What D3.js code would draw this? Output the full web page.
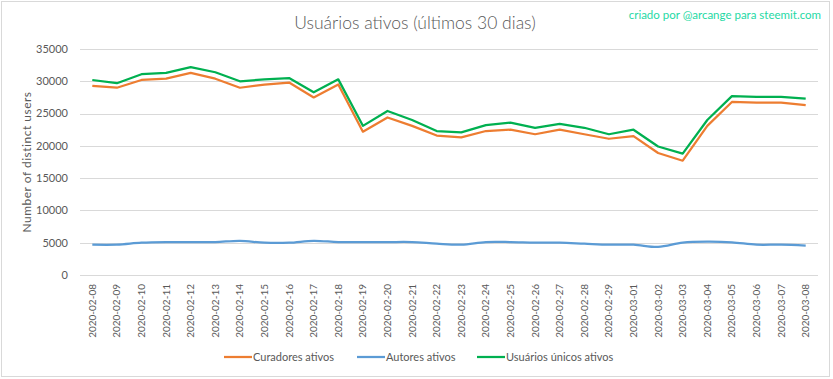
<!DOCTYPE html>
<html>
<head>
    <meta charset="utf-8"/>
    <title>Usuários ativos</title>
    <script src="https://d3js.org/d3.v7.min.js"></script>
    <style>
        body { margin: 0; background: #fff; }
        text { font-family: Lato, "Open Sans", sans-serif; }
    </style>
</head>
<body>
<div id="chart"></div>
<script>
    const dates = [
        '2020-02-08', '2020-02-09', '2020-02-10', '2020-02-11', '2020-02-12', '2020-02-13',
        '2020-02-14', '2020-02-15', '2020-02-16', '2020-02-17', '2020-02-18', '2020-02-19',
        '2020-02-20', '2020-02-21', '2020-02-22', '2020-02-23', '2020-02-24', '2020-02-25',
        '2020-02-26', '2020-02-27', '2020-02-28', '2020-02-29', '2020-03-01', '2020-03-02',
        '2020-03-03', '2020-03-04', '2020-03-05', '2020-03-06', '2020-03-07', '2020-03-08'
    ]
    const curadores = [
        29300, 29000, 30200, 30400, 31300, 30400, 29000, 29500, 29800, 27500,
        29500, 22200, 24400, 23100, 21600, 21300, 22300, 22500, 21800, 22500,
        21800, 21100, 21500, 18900, 17700, 23100, 26800, 26700, 26700, 26300
    ]
    const autores = [
        4700, 4700, 5000, 5100, 5100, 5100, 5300, 5000, 5000, 5300,
        5100, 5100, 5100, 5100, 4850, 4700, 5100, 5100, 5000, 5000,
        4850, 4700, 4700, 4350, 5000, 5150, 5050, 4700, 4700, 4550
    ]
    const unicos = [
        30200, 29700, 31100, 31300, 32200, 31400, 30000, 30300, 30500, 28300,
        30300, 23100, 25400, 24000, 22300, 22100, 23200, 23600, 22800, 23400,
        22800, 21800, 22500, 19900, 18800, 24000, 27700, 27600, 27600, 27300
    ]
    const yTicks = [0, 5000, 10000, 15000, 20000, 25000, 30000, 35000]

    const series = [
        { name: 'Curadores ativos', values: curadores, color: '#ED7D31', smooth: false },
        { name: 'Autores ativos', values: autores, color: '#5B9BD5', smooth: true },
        { name: 'Usuários únicos ativos', values: unicos, color: '#00B050', smooth: false }
    ]

    const W = 833, H = 379
    const plot = { left: 80, right: 818, top: 49, bottom: 275 }

    const svg = d3.select('#chart').append('svg')
        .attr('width', W)
        .attr('height', H)

    svg.append('rect')
        .attr('x', 1.5).attr('y', 1.5)
        .attr('width', W - 5).attr('height', H - 4)
        .attr('fill', '#fff')
        .attr('stroke', '#d9d9d9')

    const x = d3.scaleBand()
        .domain(dates)
        .range([plot.left, plot.right])

    const y = d3.scaleLinear()
        .domain([0, 35000])
        .range([plot.bottom, plot.top])

    // gridlines
    svg.append('g')
        .selectAll('line')
        .data(yTicks)
        .join('line')
        .attr('x1', plot.left)
        .attr('x2', plot.right)
        .attr('y1', d => Math.round(y(d)) + 0.5)
        .attr('y2', d => Math.round(y(d)) + 0.5)
        .attr('stroke', '#d9d9d9')
        .attr('stroke-width', 1)

    // y axis labels
    svg.append('g')
        .selectAll('text')
        .data(yTicks)
        .join('text')
        .attr('x', plot.left - 12)
        .attr('y', d => y(d))
        .attr('dy', '0.35em')
        .attr('text-anchor', 'end')
        .attr('fill', '#595959')
        .style('font-size', '11px')
        .text(d => d)

    // x axis labels
    svg.append('g')
        .selectAll('text')
        .data(dates)
        .join('text')
        .attr('transform', d => `translate(${x(d) + x.bandwidth() / 2 + 3.5},${plot.bottom + 9}) rotate(-90)`)
        .attr('text-anchor', 'end')
        .attr('fill', '#595959')
        .style('font-size', '10px')
        .text(d => d)

    // y title
    svg.append('text')
        .attr('transform', `translate(31,${(plot.top + plot.bottom) / 2}) rotate(-90)`)
        .attr('text-anchor', 'middle')
        .attr('fill', '#595959')
        .style('font-size', '12px')
        .style('letter-spacing', '0.5px')
        .text('Number of distinct users')

    // lines
    series.forEach(s => {
        const line = d3.line()
            .x((d, i) => x(dates[i]) + x.bandwidth() / 2)
            .y(d => y(d))
            .curve(s.smooth ? d3.curveCatmullRom : d3.curveLinear)
        svg.append('path')
            .datum(s.values)
            .attr('d', line)
            .attr('fill', 'none')
            .attr('stroke', s.color)
            .attr('stroke-width', 2.25)
            .attr('stroke-linejoin', 'round')
    })

    // title
    svg.append('text')
        .attr('x', 415)
        .attr('y', 29)
        .attr('text-anchor', 'middle')
        .attr('fill', '#595959')
        .style('font-size', '17.5px')
        .style('font-weight', 300)
        .text('Usuários ativos (últimos 30 dias)')

    svg.append('text')
        .attr('x', 821)
        .attr('y', 19)
        .attr('text-anchor', 'end')
        .attr('fill', '#1ED9A4')
        .style('font-size', '11.5px')
        .text('criado por @arcange para steemit.com')

    // legend
    const legendX = [224, 357, 477]
    const legend = svg.append('g')
    series.forEach((s, i) => {
        legend.append('line')
            .attr('x1', legendX[i]).attr('x2', legendX[i] + 28)
            .attr('y1', 357).attr('y2', 357)
            .attr('stroke', s.color)
            .attr('stroke-width', 2.25)
        legend.append('text')
            .attr('x', legendX[i] + 29)
            .attr('y', 357)
            .attr('dy', '0.35em')
            .attr('fill', '#595959')
            .style('font-size', '11px')
            .text(s.name)
    })
</script>
</body>
</html>
